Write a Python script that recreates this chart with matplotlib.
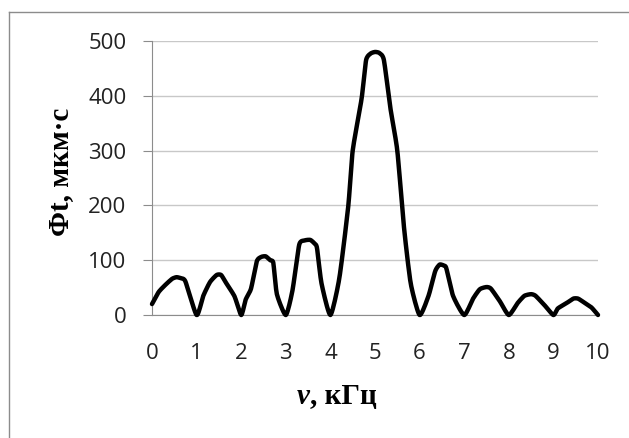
import matplotlib
matplotlib.use("Agg")
import matplotlib.pyplot as plt
import numpy as np

freq = [0, 0.15, 0.3, 0.45, 0.55, 0.65, 0.75, 1.0, 1.15, 1.3, 1.45, 1.55, 1.65, 1.85,
        2.0, 2.1, 2.22, 2.35, 2.45, 2.55, 2.65, 2.72, 2.8, 3.0, 3.15, 3.3, 3.42, 3.55,
        3.65, 3.7, 3.8, 4.0, 4.2, 4.4, 4.5, 4.7, 4.8, 4.9, 5.0, 5.1, 5.2, 5.35, 5.5,
        5.65, 5.8, 6.0, 6.2, 6.35, 6.45, 6.55, 6.6, 6.75, 7.0, 7.2, 7.35, 7.5, 7.6,
        7.8, 8.0, 8.2, 8.35, 8.5, 8.6, 8.8, 9.0, 9.1, 9.3, 9.45, 9.55, 9.65, 9.85, 10.0]
phi_t = [20, 42, 55, 66, 69, 67, 61, 0, 35, 60, 73, 73, 60, 34,
         0, 28, 48, 98, 106, 107, 100, 95, 38, 0, 45, 128, 136, 137,
         130, 122, 58, 0, 67, 198, 300, 395, 465, 477, 480, 478, 465, 375, 300,
         160, 58, 0, 35, 80, 92, 90, 85, 35, 0, 30, 47, 51, 48,
         25, 0, 22, 35, 38, 35, 18, 0, 12, 22, 30, 30, 25, 14, 0]

xticks = list(range(0, 11))
yticks = [0, 100, 200, 300, 400, 500]


def smooth(x, y, n=10, tension=0.1):
    """Lightly smoothed line: cubic Bezier segments through the points."""
    x = np.asarray(x, float)
    y = np.asarray(y, float)
    px, py = [], []
    t = np.linspace(0, 1, n, endpoint=False)
    for i in range(len(x) - 1):
        i0, i3 = max(i - 1, 0), min(i + 2, len(x) - 1)
        p0 = np.array([x[i], y[i]])
        p3 = np.array([x[i + 1], y[i + 1]])
        p1 = p0 + tension * (p3 - np.array([x[i0], y[i0]]))
        p2 = p3 - tension * (np.array([x[i3], y[i3]]) - p0)
        b = ((1 - t) ** 3)[:, None] * p0 + (3 * (1 - t) ** 2 * t)[:, None] * p1 \
            + (3 * (1 - t) * t ** 2)[:, None] * p2 + (t ** 3)[:, None] * p3
        px.extend(b[:, 0])
        py.extend(b[:, 1])
    px.append(x[-1])
    py.append(y[-1])
    return np.array(px), np.clip(np.array(py), 0, None)


W, H = 629, 438
fig = plt.figure(figsize=(W / 100, H / 100), dpi=100)
ax = fig.add_axes([152 / W, 1 - 315 / H, (598 - 152) / W, (315 - 41) / H])

# chart border (only left and top visible, rest cropped)
fig.add_artist(plt.Line2D([8.5 / W, 8.5 / W], [0, 1 - 12 / H], transform=fig.transFigure,
                          color="#8c8c8c", linewidth=1.0))
fig.add_artist(plt.Line2D([8.5 / W, 1], [1 - 12 / H, 1 - 12 / H], transform=fig.transFigure,
                          color="#8c8c8c", linewidth=1.0))

sx, sy = smooth(freq, phi_t)
ax.plot(sx, sy, color="black", linewidth=3.2, solid_joinstyle="round",
        solid_capstyle="round", clip_on=False, zorder=3)

ax.set_xlim(0, 10)
ax.set_ylim(0, 500)
ax.set_xticks(xticks)
ax.set_yticks(yticks)
ax.grid(axis="y", color="#c8c8c8", linewidth=1.0)
ax.set_axisbelow(True)
for s in ["top", "right"]:
    ax.spines[s].set_visible(False)
ax.spines["left"].set_color("#8c8c8c")
ax.spines["bottom"].set_color("#8c8c8c")
ax.tick_params(axis="y", length=6.5, color="#8c8c8c", labelsize=16, pad=12)
ax.tick_params(axis="x", length=0, labelsize=16, pad=20)
for lab in ax.get_xticklabels() + ax.get_yticklabels():
    lab.set_fontfamily("Open Sans")
    lab.set_color("#222222")

fig.text(297 / W, 1 - 404 / H, "ν", fontfamily="Liberation Serif", fontweight="bold",
         fontstyle="italic", fontsize=21, ha="left", va="baseline")
fig.text(310 / W, 1 - 404 / H, ", кГц", fontfamily="Liberation Serif", fontweight="bold",
         fontsize=21, ha="left", va="baseline")
fig.text(61 / W, 1 - 172 / H, "Фt, мкм·с", fontfamily="Liberation Serif", fontweight="bold",
         fontsize=21, rotation=90, ha="center", va="center")

fig.savefig("out.png", dpi=100)
